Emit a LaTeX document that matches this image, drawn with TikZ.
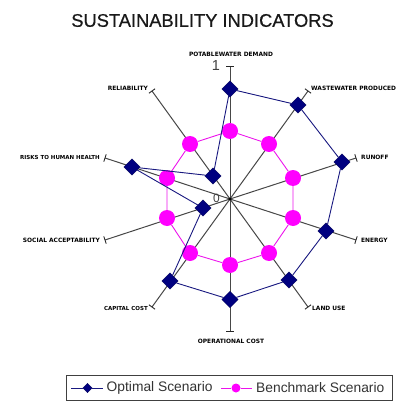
\documentclass[tikz,border=0pt]{standalone}
\usepackage{fontspec}
\setmainfont{Liberation Sans}
\newfontfamily\lblfont{DejaVu Sans}[BoldFont=* Bold]
\newfontfamily\titlefont{Liberation Sans}[FakeBold=0.6]
\usetikzlibrary{shapes.geometric,calc}
\definecolor{navyd}{RGB}{0,0,128}
\definecolor{magd}{RGB}{255,0,255}
\tikzset{
  axisline/.style={draw=black!72,line width=1pt},
  tickline/.style={draw=black!85,line width=0.9pt},
  navyline/.style={draw=navyd!80!gray,line width=0.9pt},
  magline/.style={draw=magd!85!gray,line width=0.9pt},
  dia/.style={diamond,fill=navyd,draw=navyd!70!black,line width=0.3pt,inner sep=0pt,minimum width=16.5pt,minimum height=16.5pt},
  ball/.style={circle,fill=magd,inner sep=0pt,minimum size=16pt},
  diasmall/.style={dia,minimum width=9.5pt,minimum height=9.5pt},
  ballsmall/.style={ball,minimum size=9pt},
  lbl/.style={font=\lblfont\bfseries\fontsize{5.9}{6.5}\selectfont,text=black,inner sep=0pt},
  lblnarrow/.style={font=\lblfont\bfseries\fontsize{5.5}{6.5}\selectfont,text=black,inner sep=0pt},
  scaletext/.style={font=\fontsize{14.5}{16}\selectfont,text=black!75,inner sep=0pt},
  legendtext/.style={font=\fontsize{13.8}{15}\selectfont,text=black!80,anchor=west,inner sep=0pt},
}
\begin{document}
\begin{tikzpicture}[x=1pt,y=-1pt]
\useasboundingbox (0,0) rectangle (405,406);
\node[font=\titlefont\fontsize{18.3}{20}\selectfont,text=black!90,inner sep=0pt] (title) at (202.5,20.5) {SUSTAINABILITY INDICATORS};

\coordinate (c) at (230,199);
\coordinate (e0) at (230,66);
\coordinate (e1) at (308,91);
\coordinate (e2) at (356,158);
\coordinate (e3) at (356,240);
\coordinate (e4) at (308,307);
\coordinate (e5) at (230,331);
\coordinate (e6) at (152,307);
\coordinate (e7) at (105,240);
\coordinate (e8) at (105,158);
\coordinate (e9) at (152,91);

\foreach \i in {0,...,9}{
  \draw[axisline] (c) -- (e\i);
  \draw[tickline] ($(e\i)!3.8pt!90:(c)$) -- ($(e\i)!3.8pt!-90:(c)$);
}
\fill[black] (c) circle (1.6pt);

\node[scaletext] (one) at (216,66) {1};
\node[scaletext,font=\fontsize{12}{14}\selectfont] (zero) at (216.5,198) {0};

% Benchmark
\node[ball] (b0) at (230,131) {};
\node[ball] (b1) at (269,144) {};
\node[ball] (b2) at (293,178) {};
\node[ball] (b3) at (293,218) {};
\node[ball] (b4) at (269,253) {};
\node[ball] (b5) at (230,265) {};
\node[ball] (b6) at (190,253) {};
\node[ball] (b7) at (167,218) {};
\node[ball] (b8) at (167,178) {};
\node[ball] (b9) at (190,144) {};
\draw[magline] (b0)--(b1)--(b2)--(b3)--(b4)--(b5)--(b6)--(b7)--(b8)--(b9)--(b0);

% Optimal
\node[dia] (o0) at (230,89) {};
\node[dia] (o1) at (298,105) {};
\node[dia] (o2) at (342,162) {};
\node[dia] (o3) at (326,231) {};
\node[dia] (o4) at (289,280) {};
\node[dia] (o5) at (230,299.5) {};
\node[dia] (o6) at (170,281) {};
\node[dia] (o7) at (203,208) {};
\node[dia] (o8) at (132,167) {};
\node[dia] (o9) at (213,176) {};
\draw[navyline] (o0)--(o1)--(o2)--(o3)--(o4)--(o5)--(o6)--(o7)--(o8)--(o9)--(o0);

% Axis labels
\node[lbl] (l0) at (231,54.5) {POTABLEWATER DEMAND};
\node[lbl,anchor=west] (l1) at (311,88.5) {WASTEWATER PRODUCED};
\node[lbl,anchor=west] (l2) at (361,157) {RUNOFF};
\node[lbl,anchor=west] (l3) at (361,240) {ENERGY};
\node[lbl,anchor=west] (l4) at (312,308) {LAND USE};
\node[lbl] (l5) at (231,341) {OPERATIONAL COST};
\node[lblnarrow,anchor=east] (l6) at (148,308) {CAPITAL COST};
\node[lbl,anchor=east] (l7) at (100,240) {SOCIAL ACCEPTABILITY};
\node[lblnarrow,anchor=east] (l8) at (100,157) {RISKS TO HUMAN HEALTH};
\node[lbl,anchor=east] (l9) at (148,88.5) {RELIABILITY};

% Legend
\node[draw=black!75,line width=1pt,minimum width=326pt,minimum height=24.5pt,inner sep=0pt] (legend) at (229,388) {};
\coordinate (la) at (71,388);
\coordinate (lb) at (103,388);
\node[diasmall] (lm1) at (87.5,388) {};
\draw[navyline] (la) -- (lm1) -- (lb);
\node[legendtext] (lt1) at (106.5,387.5) {Optimal Scenario};
\coordinate (lc) at (221,388);
\coordinate (ld) at (252,388);
\node[ballsmall] (lm2) at (236,388) {};
\draw[magline] (lc) -- (lm2) -- (ld);
\node[legendtext] (lt2) at (256,387.5) {Benchmark Scenario};
\end{tikzpicture}
\end{document}
